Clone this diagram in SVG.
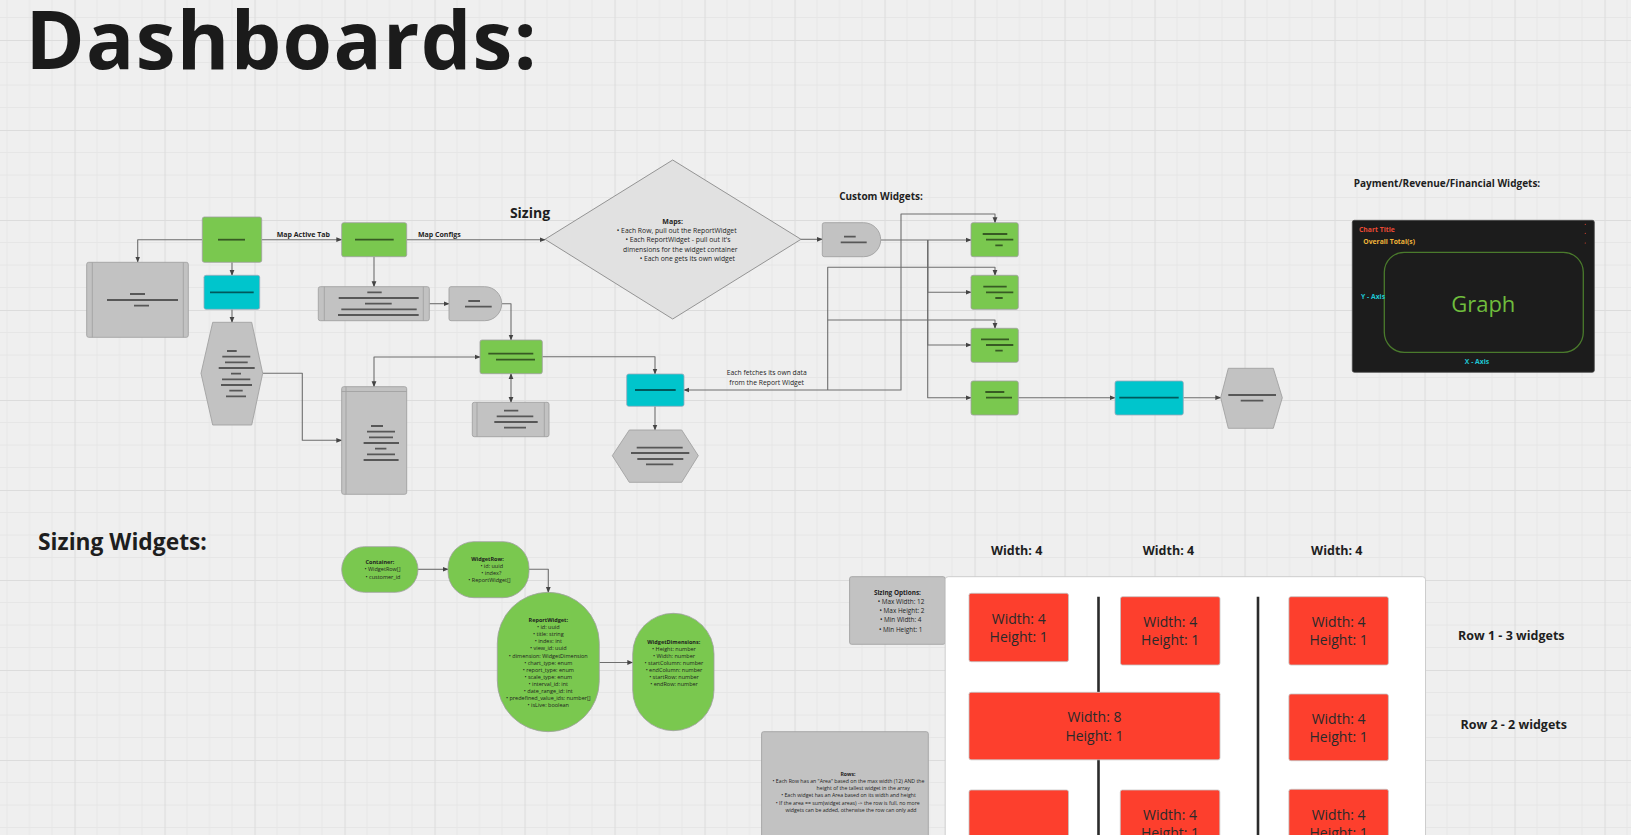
<svg xmlns="http://www.w3.org/2000/svg" width="1631" height="835" viewBox="0 0 1631 835">
<defs>
<pattern id="grid" x="74.5" y="40" width="90" height="90" patternUnits="userSpaceOnUse">
<path d="M22.5,0V90M45,0V90M67.5,0V90M0,22.5H90M0,45H90M0,67.5H90" stroke="#e6e6e6" stroke-width="1" fill="none"/>
<path d="M0.5,0V90M0,0.5H90" stroke="#dcdcdc" stroke-width="1.2" fill="none"/>
</pattern>
<marker id="ah" viewBox="0 0 10 10" refX="9" refY="5" markerWidth="6" markerHeight="6" markerUnits="userSpaceOnUse" orient="auto-start-reverse">
<path d="M0,1L10,5L0,9z" fill="#444"/>
</marker>
</defs>
<style>
.conn{fill:none;stroke:#6e6e6e;stroke-width:1.1;stroke-linejoin:round}
.green{fill:#7ac84f;stroke:#a0a0a0;stroke-width:0.8}
.cyan{fill:#00c5cc;stroke:#9ab;stroke-width:0.8}
.gray{fill:#c2c2c2;stroke:#a2a2a2;stroke-width:0.9}
.inner{stroke:#a2a2a2;stroke-width:0.9;fill:none}
.ph{stroke:#000;stroke-opacity:0.55;stroke-width:1.8;fill:none}
.red{fill:#fd3f2d;stroke:#c4c4c4;stroke-width:0.8}
text{font-family:"Open Sans","Liberation Sans",sans-serif;fill:#1e1e1e}
.b{font-weight:700}
.lbl{font-size:7px;font-weight:700;text-anchor:middle}
.tiny{font-size:5.5px;text-anchor:middle}
.sm{font-size:6.8px;text-anchor:middle}
.rt{font-size:14px;text-anchor:middle;fill:#2a2a2a}
.hd{font-size:12.5px;font-weight:700;text-anchor:middle}
.cred{fill:#ea4a35}
.cyel{fill:#f0b43a}
.ccy{fill:#1ec6d2}
.cgr{fill:#6fbd3d}
</style>
<rect width="1631" height="835" fill="#efefef"/>
<rect width="1631" height="835" fill="url(#grid)"/>

<text x="25.5" y="68.5" font-size="80" class="b" textLength="511" style="fill:#1b1b1b">Dashboards:</text>
<text x="530" y="218" font-size="14" class="b" text-anchor="middle">Sizing</text>
<text x="881" y="200.3" font-size="10" class="b" text-anchor="middle">Custom Widgets:</text>
<text x="1447" y="187" font-size="10" class="b" text-anchor="middle">Payment/Revenue/Financial Widgets:</text>
<text x="38" y="550" font-size="22.8" class="b">Sizing Widgets:</text>

<g id="connectors">
<path class="conn" d="M202,239.7H137.7V262" marker-end="url(#ah)"/>
<path class="conn" d="M232,262.3V275.3" marker-end="url(#ah)"/>
<path class="conn" d="M232,309.3V322.3" marker-end="url(#ah)"/>
<path class="conn" d="M262.7,373.3H302.3V440.3H341.7" marker-end="url(#ah)"/>
<path class="conn" d="M261.7,239.7H341.7" marker-end="url(#ah)"/>
<path class="conn" d="M406.7,239.7H545" marker-end="url(#ah)"/>
<path class="conn" d="M374,256.7V286.7" marker-end="url(#ah)"/>
<path class="conn" d="M429.3,303.7H449" marker-end="url(#ah)"/>
<path class="conn" d="M501.7,303.7H511V340" marker-end="url(#ah)"/>
<path class="conn" d="M374,386.7V357H480" marker-start="url(#ah)" marker-end="url(#ah)"/>
<path class="conn" d="M511,373.7V402.3" marker-start="url(#ah)" marker-end="url(#ah)"/>
<path class="conn" d="M542.3,356.7H655V374" marker-end="url(#ah)"/>
<path class="conn" d="M655,406.3V430" marker-end="url(#ah)"/>
<path class="conn" d="M801,239.3H822.3" marker-end="url(#ah)"/>
<path class="conn" d="M880.7,240H971" marker-end="url(#ah)"/>
<path class="conn" d="M927.7,240V292.3H971" marker-end="url(#ah)"/>
<path class="conn" d="M927.7,240V345H971" marker-end="url(#ah)"/>
<path class="conn" d="M927.7,240V397.7H971" marker-end="url(#ah)"/>
<path class="conn" d="M1018.3,397.7H1115" marker-end="url(#ah)"/>
<path class="conn" d="M1183.3,397.7H1220.7" marker-end="url(#ah)"/>
<path class="conn" d="M684,390H901V214H995V222.7" marker-start="url(#ah)" marker-end="url(#ah)"/>
<path class="conn" d="M827.7,390V267.3H995V275.3" marker-end="url(#ah)"/>
<path class="conn" d="M827.7,320H995V328.3" marker-end="url(#ah)"/>
<path class="conn" d="M418,569.3H448" marker-end="url(#ah)"/>
<path class="conn" d="M529,569.3H548.3V592.3" marker-end="url(#ah)"/>
<path class="conn" d="M599.3,662.5H632.7" marker-end="url(#ah)"/>
<text x="303.3" y="236.8" class="lbl">Map Active Tab</text>
<text x="439.3" y="236.8" class="lbl">Map Configs</text>
<text x="766.7" y="375" class="sm">Each fetches its own data</text>
<text x="766.7" y="384.6" class="sm">from the Report Widget</text>
</g>

<g id="start">
<rect class="green" x="202.3" y="217" width="59.4" height="45.3" rx="2"/>
<path class="ph" d="M218,239.7H245"/>
</g>
<g id="tabs-list">
<rect class="gray" x="86.7" y="262.3" width="101.6" height="75" rx="2"/>
<path class="inner" d="M92.3,262.3V337.3M183.3,262.3V337.3"/>
<path class="ph" d="M130,294H145M107,300H178M134,305.7H149"/>
</g>
<g id="active-tab">
<rect class="cyan" x="204" y="275.3" width="55.7" height="34" rx="2"/>
<path class="ph" d="M210,292.3H253.7"/>
</g>
<g id="tab-hex">
<polygon class="gray" points="212.7,322.3 251.7,322.3 262.7,373.3 251.7,425 212.7,425 201,373.3"/>
<path class="ph" d="M227,351H236.7M222.3,356.7H250.3M225,362.3H247.7M218.7,368H254.7M231,373.7H241M222,379.3H250.3M221,385H252M229.3,390.7H242.7M226,396.3H246"/>
</g>
<g id="configs">
<rect class="green" x="341.7" y="222.7" width="65" height="34" rx="2"/>
<path class="ph" d="M355,239.7H393.7"/>
</g>
<g id="config-list">
<rect class="gray" x="318.3" y="286.7" width="111" height="34" rx="2"/>
<path class="inner" d="M324.3,286.7V320.7M423.3,286.7V320.7"/>
<path class="ph" d="M367.3,292.3H381.7M338.7,298H418.7M365,303.7H391.7M341.3,309.3H416.7M338,315H418.7"/>
</g>
<g id="config-delay">
<path class="gray" d="M451,286.7H484.7A17,17 0 0 1 484.7,320.7H451A2,2 0 0 1 449,318.7V288.7A2,2 0 0 1 451,286.7Z"/>
<path class="ph" d="M468.3,301H480M465,306.7H491.7"/>
</g>
<g id="widget-row">
<rect class="green" x="480" y="340" width="62.3" height="33.7" rx="2"/>
<path class="ph" d="M488.3,353.7H533.3M496,359.7H535"/>
</g>
<g id="row-list">
<rect class="gray" x="341.7" y="386.7" width="65" height="107.6" rx="2"/>
<path class="inner" d="M341.7,391.5H406.7M346,386.7V494.3"/>
<path class="ph" d="M371,426H383M367,431.7H395M369,437.3H393M363.6,443H399M375,448.7H386.4M367,454.3H395M363.6,460H398.6"/>
</g>
<g id="row-detail">
<rect class="gray" x="472.3" y="402.3" width="76.7" height="34.4" rx="2"/>
<path class="inner" d="M477,402.3V436.7M544.3,402.3V436.7"/>
<path class="ph" d="M504,410.7H518.3M496.7,416.3H533.3M494.3,422H537.7M504,427.7H526"/>
</g>
<g id="report-widget">
<rect class="cyan" x="626.7" y="374" width="57.3" height="32.3" rx="2"/>
<path class="ph" d="M635,390H675.7"/>
</g>
<g id="report-hex">
<polygon class="gray" points="629.3,430 681.7,430 698.3,455.7 681.7,482.3 629.3,482.3 612.3,455.7"/>
<path class="ph" d="M636.7,447.7H682.7M631,453H689.3M637.3,459H683.3M646,464.3H673.3"/>
</g>
<g id="maps-diamond">
<polygon points="672.7,160 801,239.3 672.7,319 545,239.3" fill="#e1e1e1" stroke="#8a8a8a" stroke-width="0.9"/>
<text x="672.7" y="224" font-size="7" class="b" text-anchor="middle">Maps:</text>
<text x="676.7" y="233.1" class="sm">• Each Row, pull out the ReportWidget</text>
<text x="678" y="242.4" class="sm">• Each ReportWidget - pull out it's</text>
<text x="680.3" y="251.7" class="sm">dimensions for the widget container</text>
<text x="687.3" y="261" class="sm">• Each one gets its own widget</text>
</g>
<g id="custom-delay">
<path class="gray" d="M824.3,222.7H863.7A17,17 0 0 1 863.7,256.7H824.3A2,2 0 0 1 822.3,254.7V224.7A2,2 0 0 1 824.3,222.7Z"/>
<path class="ph" d="M844,236.7H855.7M840.7,242.3H866.7"/>
</g>
<g id="custom-a">
<rect class="green" x="971" y="222.7" width="47.3" height="34" rx="2"/>
<path class="ph" d="M982.7,234H1007.3M986,239.7H1013.3M995.3,245.3H1002.7"/>
</g>
<g id="custom-b">
<rect class="green" x="971" y="275.3" width="47.3" height="34" rx="2"/>
<path class="ph" d="M983.3,286.7H1006.7M986,292.3H1013.3M995.3,298H1002.7"/>
</g>
<g id="custom-c">
<rect class="green" x="971" y="328.3" width="47.3" height="34" rx="2"/>
<path class="ph" d="M981,339.3H1009M986,345H1013.3M995.3,350.7H1002.7"/>
</g>
<g id="custom-d">
<rect class="green" x="971" y="381" width="47.3" height="34" rx="2"/>
<path class="ph" d="M985.3,392H1004.3M986,397.7H1012"/>
</g>
<g id="custom-cyan">
<rect class="cyan" x="1115" y="381" width="68.3" height="34" rx="2"/>
<path class="ph" d="M1119.3,397.7H1178.7"/>
</g>
<g id="custom-hex">
<polygon class="gray" points="1228.3,368.3 1273.3,368.3 1282.3,397.7 1273.3,428.3 1228.3,428.3 1220.7,397.7"/>
<path class="ph" d="M1228.3,395H1276M1240.7,400.7H1263.3"/>
</g>

<g id="finance-card">
<rect x="1352.3" y="220.3" width="242" height="152" rx="2" fill="#1c1c1c" stroke="#4a4a4a" stroke-width="0.8"/>
<rect x="1384.3" y="252.3" width="199" height="100" rx="20" fill="none" stroke="#4a7a2c" stroke-width="1.3"/>
<text x="1359" y="231.6" font-size="6.8" class="b cred">Chart Title</text>
<text x="1363.3" y="244" font-size="6.8" class="b cyel">Overall Total(s)</text>
<circle cx="1585.3" cy="224.3" r="0.6" fill="#e0452e"/>
<circle cx="1585.3" cy="233.3" r="0.6" fill="#e0452e"/>
<circle cx="1585.3" cy="243" r="0.6" fill="#e0452e"/>
<text x="1483.3" y="311.5" font-size="22" text-anchor="middle" class="cgr">Graph</text>
<text x="1361" y="299" font-size="6.8" class="b ccy">Y - Axis</text>
<text x="1477" y="363.6" font-size="6.8" text-anchor="middle" class="b ccy">X - Axis</text>
</g>

<g id="container">
<rect class="green" x="341.7" y="546.7" width="76.3" height="45.6" rx="22.8"/>
<text x="380" y="564.3" class="tiny b">Container:</text>
<text x="382.5" y="571.3" class="tiny">• WidgetRow[]</text>
<text x="383" y="578.7" class="tiny">• customer_id</text>
</g>
<g id="widgetrow">
<rect class="green" x="448" y="541.7" width="81" height="56" rx="26"/>
<text x="487.5" y="561" class="tiny b">WidgetRow:</text>
<text x="491.7" y="568" class="tiny">• id: uuid</text>
<text x="491.3" y="575" class="tiny">• index?</text>
<text x="489.5" y="582" class="tiny">• ReportWidget[]</text>
</g>
<g id="reportwidget">
<rect class="green" x="497.3" y="592.3" width="102" height="139.4" rx="51"/>
<text x="548.3" y="622" class="tiny b">ReportWidget:</text>
<text x="548.3" y="629.3" class="tiny">• id: uuid</text>
<text x="548.3" y="636.3" class="tiny">• title: string</text>
<text x="548.3" y="643.3" class="tiny">• index: int</text>
<text x="548.3" y="650.3" class="tiny">• view_id: uuid</text>
<text x="548.3" y="657.7" class="tiny">• dimension: WidgetDimension</text>
<text x="548.3" y="664.7" class="tiny">• chart_type: enum</text>
<text x="548.3" y="672" class="tiny">• report_type: enum</text>
<text x="548.3" y="678.7" class="tiny">• scale_type: enum</text>
<text x="548.3" y="685.7" class="tiny">• interval_id: int</text>
<text x="548.3" y="692.7" class="tiny">• date_range_id: int</text>
<text x="548.3" y="699.7" class="tiny">• predefined_value_ids: number[]</text>
<text x="548.3" y="706.7" class="tiny">• isLive: boolean</text>
</g>
<g id="widgetdimensions">
<rect class="green" x="632.7" y="613.3" width="81.3" height="117.4" rx="40.6"/>
<text x="673.8" y="644" class="tiny b">WidgetDimensions:</text>
<text x="674" y="650.7" class="tiny">• Height: number</text>
<text x="674" y="657.7" class="tiny">• Width: number</text>
<text x="674" y="664.7" class="tiny">• startColumn: number</text>
<text x="674" y="671.7" class="tiny">• endColumn: number</text>
<text x="674" y="678.7" class="tiny">• startRow: number</text>
<text x="674" y="685.7" class="tiny">• endRow: number</text>
</g>

<text x="1016.6" y="555" class="hd">Width: 4</text>
<text x="1168.4" y="555" class="hd">Width: 4</text>
<text x="1336.8" y="555" class="hd">Width: 4</text>
<text x="1511.3" y="639.5" class="hd">Row 1 - 3 widgets</text>
<text x="1513.7" y="728.5" class="hd">Row 2 - 2 widgets</text>

<g id="sizing-options">
<rect class="gray" x="849.6" y="576.7" width="95.6" height="67.6" rx="2"/>
<text x="897.4" y="594.6" font-size="6.4" class="b" text-anchor="middle">Sizing Options:</text>
<text x="901" y="603.6" font-size="6.4" text-anchor="middle">• Max Width: 12</text>
<text x="902" y="613" font-size="6.4" text-anchor="middle">• Max Height: 2</text>
<text x="900.7" y="622.3" font-size="6.4" text-anchor="middle">• Min Width: 4</text>
<text x="900.7" y="631.6" font-size="6.4" text-anchor="middle">• Min Height: 1</text>
</g>
<g id="rows-note">
<rect class="gray" x="761.6" y="731.7" width="166.7" height="110" rx="2"/>
<text x="848" y="776" font-size="5.2" class="b" text-anchor="middle">Rows:</text>
<text x="848.5" y="782.6" font-size="5.2" text-anchor="middle">• Each Row has an "Area" based on the max width (12) AND the</text>
<text x="863.2" y="790.2" font-size="5.2" text-anchor="middle">height of the tallest widget in the array</text>
<text x="848.5" y="797.2" font-size="5.2" text-anchor="middle">• Each widget has an Area based on its width and height</text>
<text x="847.8" y="804.6" font-size="5.2" text-anchor="middle">• If the area == sum(widget areas) -&gt; the row is full, no more</text>
<text x="851" y="811.9" font-size="5.2" text-anchor="middle">widgets can be added, otherwise the row can only add</text>
</g>
<g id="layout-grid">
<rect x="945.2" y="576.7" width="480.3" height="270" rx="3" fill="#ffffff" stroke="#c8c8c8" stroke-width="0.9"/>
<path d="M1098.5,596.7V692.3M1098.5,759.3V835M1258,596.7V835" stroke="#2b2b2b" stroke-width="2.6"/>
</g>
<g id="r1c1">
<rect class="red" x="969" y="593.3" width="99.5" height="68.4" rx="2"/>
<text x="1018.7" y="624" class="rt">Width: 4</text>
<text x="1018.7" y="642.3" class="rt">Height: 1</text>
</g>
<g id="r1c2">
<rect class="red" x="1120.5" y="596.7" width="99.5" height="68.3" rx="2"/>
<text x="1170.2" y="626.7" class="rt">Width: 4</text>
<text x="1170.2" y="645" class="rt">Height: 1</text>
</g>
<g id="r1c3">
<rect class="red" x="1288.9" y="596.7" width="99.5" height="68.3" rx="2"/>
<text x="1338.6" y="626.7" class="rt">Width: 4</text>
<text x="1338.6" y="645" class="rt">Height: 1</text>
</g>
<g id="r2c1">
<rect class="red" x="969" y="692.3" width="251" height="67.5" rx="2"/>
<text x="1094.5" y="722.3" class="rt">Width: 8</text>
<text x="1094.5" y="740.7" class="rt">Height: 1</text>
</g>
<g id="r2c3">
<rect class="red" x="1288.9" y="694" width="99.5" height="66.7" rx="2"/>
<text x="1338.6" y="724" class="rt">Width: 4</text>
<text x="1338.6" y="741.7" class="rt">Height: 1</text>
</g>
<g id="r3c1">
<rect class="red" x="969" y="790" width="99.5" height="60" rx="2"/>
</g>
<g id="r3c2">
<rect class="red" x="1120.3" y="790" width="99.5" height="60" rx="2"/>
<text x="1170" y="820" class="rt">Width: 4</text>
<text x="1170" y="838.3" class="rt">Height: 1</text>
</g>
<g id="r3c3">
<rect class="red" x="1288.9" y="789.3" width="99.5" height="60" rx="2"/>
<text x="1338.6" y="820" class="rt">Width: 4</text>
<text x="1338.6" y="838.3" class="rt">Height: 1</text>
</g>
</svg>
